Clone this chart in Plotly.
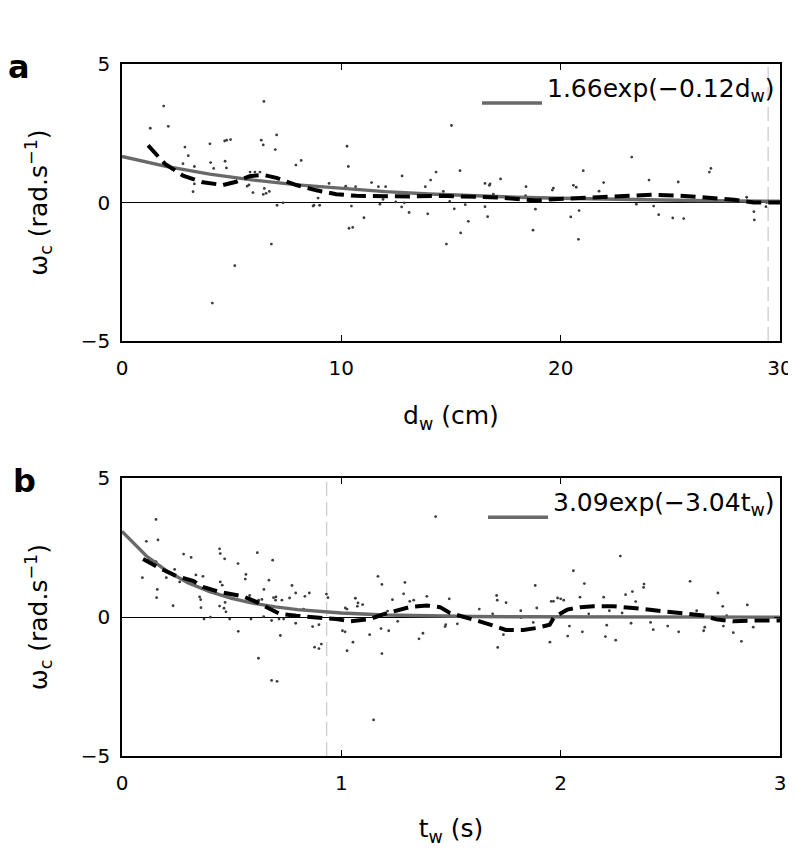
import plotly.graph_objects as go

# ---------------- Panel a: distance ----------------
a_pts_x = [1.29, 1.90, 2.11, 2.87, 3.02, 2.78, 3.30, 3.30, 3.24, 4.01, 4.04, 4.18, 4.12, 4.68, 4.77, 4.95,
           4.70, 4.76, 5.14, 5.71, 5.79, 5.84, 6.06, 6.29, 5.97, 6.35, 6.44, 6.47, 6.49, 6.44, 6.57, 6.72,
           6.81, 6.99, 7.05, 7.07, 7.34, 7.93, 8.17, 8.62, 8.71, 8.75, 8.94, 9.01, 9.44, 10.20, 10.26,
           10.32, 10.35, 10.52, 10.46, 10.65, 11.03, 11.38, 11.69, 11.76, 11.90, 12.02, 12.48, 12.77,
           12.75, 12.87, 13.09, 13.83, 13.94, 14.07, 14.32, 14.65, 14.79, 15.02, 14.94, 15.15, 15.41,
           15.44, 15.65, 15.79, 16.55, 16.75, 16.78, 16.55, 16.67, 16.93, 17.26, 18.42, 18.40, 18.74,
           18.85, 19.67, 19.62, 20.46, 20.58, 20.71, 20.84, 20.81, 21.03, 21.75, 21.96, 23.24, 23.45,
           24.03, 24.24, 24.47, 25.11, 25.36, 25.61, 26.78, 26.85, 28.48, 28.81, 28.83, 29.36, 29.39]
a_pts_y = [2.68, 3.48, 2.75, 2.00, 1.69, 1.40, 1.30, 0.67, 0.39, 2.12, 1.44, 1.23, -3.63, 2.22, 2.25, 2.27,
           1.49, 1.25, -2.28, 0.59, 0.64, 1.10, 1.10, 1.10, 0.36, 2.25, 2.08, 3.65, 0.51, 0.29, 0.33, 0.40,
           -1.50, 1.91, 2.44, -0.10, -0.01, 1.35, 1.52, 0.59, -0.13, -0.10, 0.16, -0.10, 0.69, 0.59, 2.03,
           1.30, -0.93, -0.90, -0.13, 0.57, -0.55, 0.72, 0.57, -0.06, 0.11, 0.57, 0.02, 0.96,
           -0.16, -0.01, -0.36, 0.57, -0.41, 0.81, 1.10, 0.40, -1.50, 2.78, 0.04, -0.23, 1.15,
           -1.10, -0.08, -0.68, 0.69, 0.62, 0.67, -0.15, -0.51, 0.30, 0.85, 0.57, 0.25, -1.00,
           -0.24, 0.52, 0.45, -0.52, 0.62, 0.55, -0.29, -1.33, 1.15, 0.41, 0.72, 1.64, -0.06,
           0.81, -0.13, -0.44, -0.56, 0.74, -0.58, 1.10, 1.23, 0.19, -0.33, -0.63, -0.15, 0.00]

a_mean_x = [1.19, 1.95, 2.78, 3.69, 4.60, 5.21, 5.82, 6.43, 7.04, 7.95, 8.86, 9.77, 10.68, 11.60, 13.10,
            14.50, 16.00, 17.20, 18.45, 18.90, 19.67, 20.90, 22.10, 23.30, 24.20, 25.40, 26.66, 27.90,
            28.80, 29.70, 30.00]
a_mean_y = [2.06, 1.40, 0.97, 0.73, 0.63, 0.75, 0.95, 1.00, 0.89, 0.63, 0.44, 0.30, 0.24, 0.23, 0.22,
            0.24, 0.21, 0.18, 0.10, 0.07, 0.12, 0.16, 0.21, 0.27, 0.28, 0.25, 0.17, 0.10,
            0.00, 0.00, 0.00]

a_fit_x = [0, 2, 4, 6, 8, 10, 12, 14, 16, 18, 20, 22, 24, 26, 28, 30]
a_fit_y = [1.66, 1.306, 1.027, 0.808, 0.636, 0.500, 0.393, 0.309, 0.243, 0.191, 0.151, 0.118, 0.093,
           0.073, 0.058, 0.045]
a_fit_label = "1.66exp(\u22120.12d<sub>w</sub>)"
a_vline = 29.46

# ---------------- Panel b: time ----------------
b_pts_x = [0.093, 0.111, 0.155, 0.164, 0.161, 0.158, 0.119, 0.155, 0.202, 0.233, 0.240, 0.263, 0.281,
           0.315, 0.337, 0.369, 0.354, 0.359, 0.360, 0.374, 0.403, 0.445, 0.448, 0.468, 0.448, 0.457,
           0.470, 0.465, 0.474, 0.445, 0.491, 0.529, 0.530, 0.562, 0.565, 0.588, 0.582, 0.617, 0.622,
           0.623, 0.638, 0.646, 0.670, 0.687, 0.682, 0.707, 0.682, 0.647, 0.691, 0.700, 0.702, 0.722,
           0.716, 0.729, 0.737, 0.764, 0.775, 0.792, 0.792, 0.828, 0.834, 0.854, 0.869, 0.878, 0.898,
           0.909, 0.898, 0.932, 0.939, 1.005, 1.017, 1.026, 1.018, 1.026, 1.053, 1.064, 1.073, 1.076,
           1.097, 1.129, 1.147, 1.167, 1.185, 1.181, 1.185, 1.211, 1.216, 1.233, 1.257, 1.284, 1.290,
           1.312, 1.330, 1.354, 1.372, 1.390, 1.430, 1.473, 1.476, 1.492, 1.529, 1.571, 1.629, 1.690,
           1.708, 1.711, 1.713, 1.739, 1.751, 1.818, 1.819, 1.875, 1.884, 1.891, 1.951, 1.957, 1.967,
           1.986, 2.000, 2.014, 2.032, 2.040, 2.058, 2.088, 2.099, 2.108, 2.128, 2.196, 2.210, 2.204,
           2.222, 2.251, 2.272, 2.280, 2.296, 2.321, 2.327, 2.342, 2.378, 2.380, 2.410, 2.422, 2.488,
           2.538, 2.590, 2.620, 2.652, 2.657, 2.717, 2.739, 2.742, 2.757, 2.787, 2.824, 2.851, 2.878]
b_pts_y = [1.42, 2.73, 3.52, 2.78, 1.00, 0.70, 2.06, 2.00, 1.42, 0.41, 1.72, 1.27, 2.27,
           2.15, 1.52, 1.47, 0.73, 0.63, 0.34, -0.07, 0.00, 2.46, 2.29, 2.10, 1.27, 1.15,
           0.53, 0.32, 0.19, 0.40, -0.07, 1.93, -0.51, 1.37, 1.54, -0.07, 0.78, 2.32, -1.48,
           0.61, 0.64, 0.02, 1.33, 2.05, -2.28, -2.31, -0.12, 1.00, 0.70, 0.61, 0.73, -0.66,
           -0.07, 0.61, -0.07, 0.69, 1.14, -0.22, 0.87, 0.29, 0.75, 0.87, -0.34, -1.08, -1.13,
           -0.97, -0.27, 0.83, 0.70, -0.49, -0.53, -1.21, 0.33, 0.29, -0.90, 0.68, 0.39, 0.51,
           0.45, -0.63, -3.70, 1.47, 1.18, -0.41, -1.31, 0.22, -0.49, 0.63, -0.15, 0.84, 1.25,
           0.57, 0.61, -0.78, -0.58, 0.75, 3.62, -0.34, -0.27, 0.66, -0.24, 0.00, 0.29, 0.12,
           0.78, 0.61, -1.09, -0.63, 0.52, 0.23, -0.02, -0.19, 1.14, 0.33, -0.90, 0.57, 0.57,
           0.69, 0.66, 0.61, -0.68, -0.32, 1.67, 0.72, -0.53, 1.21, 0.12, 0.72, -0.29, -0.70,
           0.23, -0.83, 2.20, 0.15, 0.81, -0.22, 0.92, 0.56, 1.07, 1.19, -0.19, -0.45, -0.32,
           -0.53, 1.29, 0.23, -0.49, -0.36, 0.87, 0.39, -0.32, 0.05, -0.56, -0.87, 0.44, -0.36]

b_mean_x = [0.096, 0.172, 0.248, 0.324, 0.369, 0.445, 0.552, 0.612, 0.673, 0.719, 0.795, 0.886, 0.977,
            1.038, 1.129, 1.19, 1.25, 1.31, 1.39, 1.45, 1.495, 1.57, 1.63, 1.69, 1.75, 1.83, 1.89,
            1.95, 1.97, 2.03, 2.09, 2.15, 2.24, 2.33, 2.44, 2.56, 2.65, 2.71, 2.79, 2.89, 3.00]
b_mean_y = [2.09, 1.76, 1.48, 1.31, 1.09, 0.91, 0.75, 0.55, 0.30, 0.12, 0.05, 0.00, -0.07,
            -0.15, -0.07, 0.10, 0.22, 0.36, 0.42, 0.36, 0.15, 0.00, -0.15, -0.30, -0.46, -0.46, -0.39,
            -0.27, 0.00, 0.27, 0.36, 0.39, 0.39, 0.33, 0.24, 0.15, 0.06, -0.08, -0.15, -0.12, -0.12]

b_fit_x = [0, 0.11, 0.2, 0.3, 0.4, 0.5, 0.6, 0.7, 0.8, 0.9, 1.0, 1.2, 1.4, 1.6, 1.8, 2.0, 2.5, 3.0]
b_fit_y = [3.09, 2.21, 1.682, 1.241, 0.916, 0.676, 0.499, 0.368, 0.272, 0.200, 0.148, 0.080, 0.044,
           0.024, 0.013, 0.007, 0.0015, 0.0003]
b_fit_label = "3.09exp(\u22123.04t<sub>w</sub>)"
b_vline = 0.933

y_ticks = [-5, 0, 5]
y_tick_text = ["\u22125", "0", "5"]
a_x_ticks = [0, 10, 20, 30]
b_x_ticks = [0, 1, 2, 3]

FONT = "DejaVu Sans, Liberation Sans, Arial, sans-serif"
GRAY = "rgb(105,105,105)"

# the page body adds an 8px margin, so the figure is 8px smaller than the window
W, H = 788, 856
ML, MR, MT, MB = 114, 16, 56, 108
plot_w = W - ML - MR
plot_h = H - MT - MB

fig = go.Figure()

def add_panel(xa, ya, px, py, mx, my, fx, fy, flabel, legend_name, vline):
    fig.add_trace(go.Scatter(x=[vline, vline], y=[-5, 5], mode="lines",
                             line=dict(color="rgb(205,205,205)", width=1.3, dash="14px,6px"),
                             xaxis=xa, yaxis=ya, showlegend=False, hoverinfo="skip"))
    fig.add_trace(go.Scatter(x=px, y=py, mode="markers",
                             marker=dict(color="rgb(60,60,60)", size=2.8),
                             xaxis=xa, yaxis=ya, showlegend=False))
    # second (blank) line lets the legend symbol sit lower than the text, as in the original
    fig.add_trace(go.Scatter(x=fx, y=fy, mode="lines", name=flabel + "<br>\u00a0",
                             line=dict(color=GRAY, width=3.4),
                             xaxis=xa, yaxis=ya, showlegend=True, legend=legend_name))
    fig.add_trace(go.Scatter(x=mx, y=my, mode="lines",
                             line=dict(color="black", width=4, dash="15px,7px"),
                             xaxis=xa, yaxis=ya, showlegend=False))

add_panel("x", "y", a_pts_x, a_pts_y, a_mean_x, a_mean_y, a_fit_x, a_fit_y, a_fit_label, "legend", a_vline)
add_panel("x2", "y2", b_pts_x, b_pts_y, b_mean_x, b_mean_y, b_fit_x, b_fit_y, b_fit_label, "legend2", b_vline)

axis_common = dict(showline=True, linecolor="black", linewidth=1.5, mirror="ticks",
                   ticks="inside", ticklen=6, tickwidth=1.2, tickcolor="black", automargin=False,
                   showgrid=False, tickfont=dict(family=FONT, size=20, color="black"))

y_common = dict(axis_common, range=[-5, 5], tickvals=y_ticks, ticktext=y_tick_text,
                zeroline=True, zerolinecolor="black", zerolinewidth=1.4,
                ticklabelstandoff=6)

TITLE_FONT = dict(family=FONT, size=25, color="black")
LEG_FONT = dict(family=FONT, size=25, color="black")

fig.update_layout(
    width=W, height=H,
    margin=dict(l=ML, r=MR, t=MT, b=MB, autoexpand=False),
    plot_bgcolor="white", paper_bgcolor="white",
    font=dict(family=FONT, color="black"),
    xaxis=dict(axis_common, domain=[0, 1], anchor="y", range=[0, 30], tickvals=a_x_ticks,
               zeroline=False, ticklabelstandoff=8,
               title=dict(text="d<sub>w</sub> (cm)", font=TITLE_FONT, standoff=28)),
    yaxis=dict(y_common, domain=[0.5997, 1.0], anchor="x",
               title=dict(text="\u03c9<sub>c</sub> (rad.s<sup>\u22121</sup>)", font=TITLE_FONT, standoff=26)),
    xaxis2=dict(axis_common, domain=[0, 1], anchor="y2", range=[0, 3], tickvals=b_x_ticks,
                zeroline=False, ticklabelstandoff=8,
                title=dict(text="t<sub>w</sub> (s)", font=TITLE_FONT, standoff=26)),
    yaxis2=dict(y_common, domain=[0, 0.4013], anchor="x2",
                title=dict(text="\u03c9<sub>c</sub> (rad.s<sup>\u22121</sup>)", font=TITLE_FONT, standoff=26)),
    legend=dict(x=1.0, y=1.0, xanchor="right", yanchor="top", bgcolor="rgba(0,0,0,0)",
                font=LEG_FONT, itemwidth=60, valign="middle"),
    legend2=dict(x=1.0, y=0.4013, xanchor="right", yanchor="top", bgcolor="rgba(0,0,0,0)",
                 font=LEG_FONT, itemwidth=60, valign="middle"),
)

# panel letters, placed by window-pixel position converted to paper coordinates
for letter, px_x, px_y in [("a", 19, 67), ("b", 24, 481)]:
    fx_ = px_x - 8
    fy_ = px_y - 8
    fig.add_annotation(text=f"<b>{letter}</b>", x=(fx_ - ML) / plot_w, y=1 - (fy_ - MT) / plot_h,
                       xref="paper", yref="paper", showarrow=False, xanchor="center", yanchor="middle",
                       font=dict(family=FONT, size=32, color="black"))

fig.write_html("out.html")
